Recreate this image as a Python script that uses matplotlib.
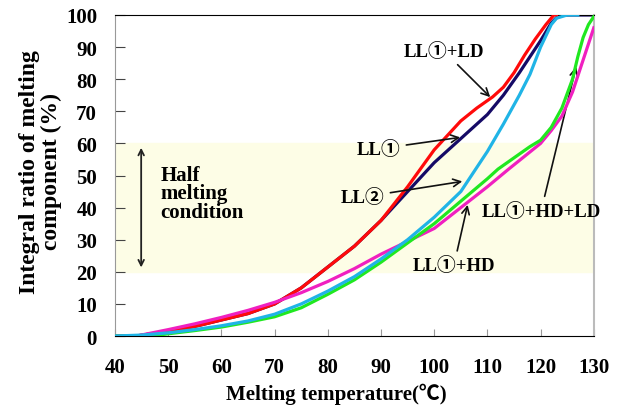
import numpy as np
import matplotlib
matplotlib.use('Agg')
import matplotlib.pyplot as plt

FONT = ['Liberation Serif', 'Noto Sans CJK JP', 'DejaVu Sans']
plt.rcParams['font.family'] = FONT
plt.rcParams['font.weight'] = 'bold'

# LL1+LD (red)
t_red = [40, 44, 50, 55, 60, 65, 70, 75, 80, 85, 90, 95, 100, 105, 108, 111, 113, 115, 117, 119, 121, 122.5, 123]
v_red = [0, 0, 1.5, 3, 5, 7, 10, 15, 21.5, 28, 36, 46.5, 58, 67, 71, 74.5, 77.5, 82, 87.5, 92.5, 97, 100, 100]
# LL1 (navy)
t_navy = [40, 44, 50, 55, 60, 65, 70, 75, 80, 85, 90, 95, 100, 105, 110, 113, 116, 118, 120, 122, 123.5, 130]
v_navy = [0, 0, 1.5, 3, 5, 7, 10, 15, 21.5, 28, 36, 45, 54, 61.5, 69, 75, 82, 87, 92, 97.5, 100, 100]
# LL2 (cyan)
t_cyan = [40, 45, 50, 55, 60, 65, 70, 75, 80, 85, 90, 95, 100, 105, 107, 110, 113, 116, 118, 120, 122, 123, 125, 127]
v_cyan = [0, 0.3, 1, 2, 3.2, 4.7, 6.8, 10, 14, 18.5, 24, 30, 37, 45, 50, 57.5, 66, 75, 81.5, 90, 97, 99, 100, 100]
# LL1+HD (magenta)
t_mag = [40, 44, 50, 55, 60, 65, 70, 75, 80, 85, 90, 95, 100, 105, 110, 114, 117, 120, 122, 124, 126, 128, 130]
v_mag = [0, 0, 2, 3.8, 5.8, 8, 10.5, 13.5, 17, 21, 25.5, 29.5, 33.5, 40, 46.5, 52, 56, 60, 64, 68.5, 76, 86, 96]
# LL1+HD+LD (green)
t_grn = [40, 47, 50, 55, 60, 65, 70, 75, 80, 85, 90, 95, 100, 105, 110, 112, 115, 118, 120, 122, 124, 126, 127, 128, 129, 130]
v_grn = [0, 0, 0.7, 1.7, 2.8, 4.3, 6, 8.8, 13, 17.5, 23, 29, 35, 42, 49, 52, 55.5, 59, 61, 65, 71, 80, 87, 93, 97, 99.5]

xticks = list(range(40, 131, 10))
yticks = list(range(0, 101, 10))

fig = plt.figure(figsize=(6.29, 4.10), dpi=100)
ax = fig.add_axes([0.183, 0.178, 0.761, 0.783])

ax.axhspan(20, 60, color='#fdfde6', zorder=0)

ax.plot(t_navy, v_navy, color='#150a66', lw=2.3, zorder=2)
ax.plot(t_red, v_red, color='#ff0a0a', lw=2.3, zorder=3)
ax.plot(t_mag, v_mag, color='#f020c0', lw=2.3, zorder=4)
ax.plot(t_grn, v_grn, color='#20e820', lw=2.3, zorder=5)
ax.plot(t_cyan, v_cyan, color='#20b4e6', lw=2.3, zorder=6)

ax.set_xlim(40, 130)
ax.set_ylim(0, 100)
ax.set_xticks(xticks)
ax.set_yticks(yticks)
ax.tick_params(axis='x', direction='in', length=5, color='#999999', pad=15, labelsize=15)
ax.tick_params(axis='y', direction='in', length=7, color='#444444', pad=13, labelsize=15)
for lab in ax.get_xticklabels() + ax.get_yticklabels():
    lab.set_fontweight('bold')

ax.spines['left'].set_color('#999999')
ax.spines['right'].set_color('#bbbbbb')
ax.spines['bottom'].set_color('black')
ax.spines['top'].set_color('black')
ax.spines['right'].set_linewidth(1.5)

ax.set_xlabel('Melting temperature(℃)', fontsize=15, fontweight='bold')
ax.xaxis.set_label_coords(0.463, -0.145)
ax.set_ylabel('Integral ratio of melting\ncomponent (%)', fontsize=17, fontweight='bold',
              linespacing=1.05)
ax.yaxis.set_label_coords(-0.11, 0.515)

# half melting band
ax.annotate('', xy=(44.9, 20.5), xytext=(44.9, 59.5),
            arrowprops=dict(arrowstyle='<->', color='#222222', lw=1.3))
ax.text(48.5, 44.5, 'Half\nmelting\ncondition', fontsize=15, fontweight='bold',
        ha='left', va='center', linespacing=0.9)

arrow = dict(arrowstyle='->', color='#111111', lw=1.2)
ax.annotate('LL①+LD', xy=(110.9, 73.8), xytext=(101.8, 88.8), fontsize=13.5,
            fontweight='bold', ha='center', va='center', arrowprops=arrow)
ax.annotate('LL①', xy=(105.4, 62), xytext=(89.6, 58.3), fontsize=13.5,
            fontweight='bold', ha='center', va='center', arrowprops=arrow)
ax.annotate('LL②', xy=(105.8, 48.3), xytext=(86.6, 43.3), fontsize=13.5,
            fontweight='bold', ha='center', va='center', arrowprops=arrow)
ax.annotate('LL①+HD', xy=(106.4, 41.7), xytext=(103.7, 22), fontsize=13.5,
            fontweight='bold', ha='center', va='center', arrowprops=arrow)
ax.annotate('LL①+HD+LD', xy=(126.8, 84.7), xytext=(120.1, 39), fontsize=13.5,
            fontweight='bold', ha='center', va='center', arrowprops=arrow,
            annotation_clip=False)

fig.savefig('out.png', dpi=100)
